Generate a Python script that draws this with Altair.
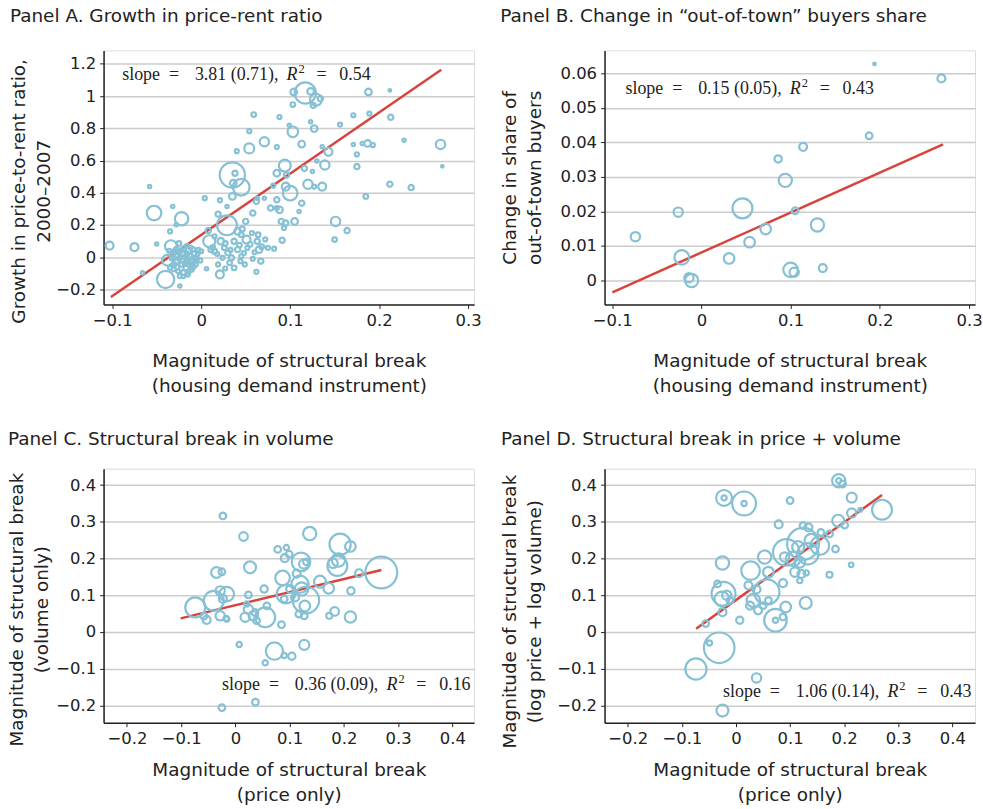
import altair as alt
import pandas as pd

# ---------------- Panel A data ----------------
a_x = [-0.103, -0.075, -0.058, -0.053, -0.022, -0.028, -0.032, -0.035, -0.050, -0.066,
       -0.040, -0.034, -0.038, -0.024, -0.032, -0.028, -0.024, -0.021, -0.017, -0.013,
       -0.022, -0.017, -0.011, -0.026, -0.019, -0.009, -0.007, -0.015, -0.030, -0.021,
       -0.015, -0.011, -0.035, -0.006, -0.024, -0.004, -0.019, -0.028, -0.012, -0.020,
       -0.008, -0.030, -0.016, -0.001, -0.025,
       0.004, 0.021, 0.029, 0.019, 0.035, 0.038, 0.036, 0.045, 0.035, 0.029,
       0.009, 0.008, 0.022, 0.037, 0.041, 0.046, 0.051, 0.057, 0.063, 0.065,
       0.067, 0.062, 0.021, 0.037, 0.006, 0.019, 0.030, 0.011, 0.026, 0.041,
       0.052, 0.075, 0.082, 0.034, 0.045, 0.054, 0.054, 0.059, 0.040, 0.071,
       0.085, 0.088, 0.094, 0.085, 0.096, 0.100, 0.095, 0.081, 0.085, 0.078,
       0.088, 0.090, 0.093, 0.095, 0.105, 0.110, 0.113, 0.091, 0.103, 0.099,
       0.103, 0.104, 0.117, 0.129, 0.123, 0.134, 0.126, 0.113, 0.123, 0.127,
       0.116, 0.120, 0.127, 0.136, 0.139, 0.143, 0.136, 0.130, 0.125, 0.151,
       0.150, 0.164, 0.156, 0.171, 0.188, 0.212, 0.189, 0.213, 0.171, 0.175,
       0.175, 0.181, 0.187, 0.193, 0.228, 0.269, 0.271, 0.212, 0.236, 0.185,
       0.062, 0.058, 0.063, 0.050, 0.045, 0.015, 0.032, 0.049, 0.024, 0.000,
       0.071, 0.085,
       -0.033, -0.027, -0.018, -0.014, -0.009, -0.005, -0.023, -0.031, -0.012, -0.020,
       -0.027, -0.003, -0.016, -0.036, -0.010,
       0.013, 0.018, 0.027, 0.033, 0.043, 0.048, 0.055, 0.060, 0.068, 0.058,
       0.027, 0.044, 0.015, 0.072, 0.064]
a_y = [0.072, 0.062, 0.438, 0.274, 0.239, 0.202, 0.315, 0.160, 0.082, -0.097,
       -0.138, 0.068, -0.019, -0.179, 0.016, 0.047, -0.004, 0.027, -0.025, 0.006,
       -0.045, -0.066, -0.045, -0.086, 0.058, 0.047, -0.004, -0.107, -0.045, -0.014,
       0.037, -0.076, -0.066, -0.045, -0.117, 0.016, 0.016, -0.030, -0.020, -0.095,
       0.025, 0.035, 0.070, -0.020, 0.085,
       0.366, 0.354, 0.315, 0.267, 0.510, 0.521, 0.459, 0.434, 0.377, 0.198,
       0.099, 0.165, 0.099, 0.099, 0.160, 0.175, 0.109, 0.150, 0.099, 0.047,
       -0.025, -0.091, -0.107, -0.066, -0.072, -0.045, 0.027, 0.047, 0.058, 0.047,
       0.058, 0.058, 0.053, -0.004, 0.006, 0.675, 0.782, 0.885, 0.658, 0.716,
       0.683, 0.870, 0.568, 0.521, 0.510, 0.397, 0.438, 0.444, 0.356, 0.305,
       0.294, 0.222, 0.181, 0.212, 0.222, 0.284, 0.335, 0.105, 0.778, 0.819,
       0.947, 1.025, 1.019, 0.977, 1.029, 0.984, 0.942, 0.702, 0.840, 0.798,
       0.551, 0.453, 0.438, 0.438, 0.572, 0.654, 0.685, 0.597, 0.531, 0.222,
       0.109, 0.165, 0.823, 0.881, 1.025, 1.035, 0.891, 0.868, 0.700, 0.638,
       0.562, 0.706, 0.706, 0.695, 0.726, 0.700, 0.564, 0.453, 0.432, 0.377,
       0.346, 0.274, 0.366, 0.222, 0.140, 0.037, -0.035, -0.045, -0.004, 0.037,
       0.366, 0.305,
       -0.005, 0.010, -0.040, -0.090, -0.060, -0.010, 0.040, -0.075, 0.060, -0.120,
       -0.060, 0.045, 0.020, 0.040, -0.030,
       0.060, 0.020, 0.085, 0.045, 0.075, 0.025, 0.080, 0.030, 0.065, -0.010,
       -0.070, -0.025, 0.130, 0.110, 0.140]
a_w = [1.44, 1.44, 0.25, 4.84, 4.0, 0.25, 0.25, 0.36, 0.25, 0.25,
       6.76, 3.24, 2.56, 0.25, 0.36, 0.64, 0.49, 0.64, 0.36, 0.64,
       0.49, 0.64, 0.36, 0.36, 0.36, 0.49, 0.36, 0.36, 0.36, 1.0,
       1.0, 0.49, 0.36, 0.36, 0.36, 0.25, 1.44, 0.64, 0.81, 0.49,
       0.49, 0.49, 0.36, 0.36, 0.49,
       0.36, 0.36, 0.25, 0.64, 14.4, 0.64, 1.0, 6.25, 1.0, 9.0,
       3.24, 0.64, 1.0, 0.64, 1.0, 0.64, 1.44, 0.36, 0.64, 1.0,
       0.64, 0.36, 1.44, 0.49, 0.25, 0.36, 0.64, 0.64, 0.49, 0.64,
       0.36, 0.36, 0.36, 0.64, 0.36, 2.25, 0.36, 0.49, 0.36, 1.96,
       0.36, 0.36, 3.24, 1.0, 0.64, 4.84, 1.44, 0.36, 0.64, 0.64,
       1.0, 0.64, 0.36, 0.64, 1.0, 0.25, 0.64, 0.64, 2.56, 0.25,
       0.49, 1.0, 10.24, 3.24, 1.0, 0.64, 0.64, 1.0, 0.25, 1.0,
       0.64, 1.96, 0.36, 1.44, 1.96, 1.44, 0.25, 0.25, 0.25, 1.96,
       0.49, 0.64, 0.36, 0.36, 1.0, 0.16, 0.36, 0.64, 0.25, 0.36,
       0.64, 0.25, 1.0, 0.36, 0.25, 1.96, 0.16, 0.64, 0.64, 0.49,
       0.64, 0.64, 0.25, 0.64, 0.49, 0.64, 0.49, 0.36, 0.36, 0.36,
       0.25, 0.36,
       0.49, 0.36, 0.49, 0.36, 0.49, 0.36, 0.36, 0.36, 0.36, 0.25,
       0.49, 0.36, 0.49, 0.36, 0.64,
       0.49, 0.36, 0.49, 0.36, 0.49, 0.36, 0.49, 0.36, 0.49, 0.36,
       0.36, 0.36, 0.36, 0.36, 0.49]
a_line_x = [-0.1015, 0.2698]
a_line_y = [-0.247, 1.163]

# ---------------- Panel B data ----------------
b_x = [0.194, 0.269, 0.188, 0.114, 0.086, 0.094, 0.046, 0.105, -0.026, 0.130,
       0.072, 0.054, -0.074, -0.022, 0.031, 0.136, 0.100, 0.104, -0.014, -0.011]
b_y = [0.0627, 0.0585, 0.0419, 0.0387, 0.0352, 0.0290, 0.0209, 0.0202, 0.0198, 0.0161,
       0.0149, 0.0111, 0.0127, 0.0067, 0.0064, 0.0036, 0.0031, 0.0024, 0.0008, 0.0000]
b_w = [0.16, 1.44, 1.0, 1.44, 1.21, 4.0, 9.0, 1.0, 1.96, 4.0,
       2.56, 2.56, 1.96, 4.84, 2.56, 1.44, 4.84, 1.96, 1.96, 4.0]
b_line_x = [-0.0998, 0.2708]
b_line_y = [-0.0034, 0.0394]

# ---------------- Panel C data ----------------
c_x = [-0.023, 0.015, 0.027, -0.035, -0.025, -0.074, -0.040, -0.016, -0.028, -0.023,
       -0.053, -0.058, -0.028, -0.017, 0.024, 0.053, 0.058, 0.018, 0.024, 0.033,
       0.039, 0.055, 0.036, 0.085, 0.007, 0.072, 0.090, 0.104, 0.055, 0.127,
       -0.025, 0.037, 0.137, 0.078, 0.094, 0.091, 0.099, 0.121, 0.126, 0.131,
       0.087, 0.113, 0.093, 0.090, 0.119, 0.130, 0.122, 0.128, 0.117, 0.127,
       0.110, 0.101, 0.156, 0.172, 0.193, 0.212, 0.188, 0.190, 0.180, 0.228,
       0.269, 0.213, 0.183, 0.173, 0.212, 0.021, -0.016]
c_y = [0.316, 0.260, 0.176, 0.162, 0.164, 0.067, 0.085, 0.103, 0.112, 0.090,
       0.033, 0.043, 0.044, 0.037, 0.101, 0.117, 0.071, 0.040, 0.062, 0.044,
       0.031, 0.040, 0.053, 0.020, -0.034, -0.052, -0.064, -0.066, -0.084, -0.035,
       -0.206, -0.191, 0.268, 0.225, 0.230, 0.201, 0.212, 0.191, 0.185, 0.191,
       0.147, 0.159, 0.103, 0.090, 0.130, 0.087, 0.117, 0.071, 0.049, 0.044,
       0.094, 0.117, 0.137, 0.119, 0.239, 0.233, 0.180, 0.196, 0.187, 0.160,
       0.162, 0.112, 0.056, 0.044, 0.041, 0.076, 0.035]
c_w = [1.0, 1.69, 3.24, 2.56, 1.0, 9.0, 9.0, 4.84, 1.96, 1.44,
       1.44, 1.0, 1.96, 0.64, 1.0, 1.21, 1.0, 1.96, 1.96, 1.96,
       1.0, 9.0, 1.0, 1.0, 0.64, 6.76, 0.64, 1.21, 0.64, 2.25,
       1.0, 1.0, 4.0, 1.0, 0.64, 1.44, 1.0, 7.84, 1.96, 1.0,
       4.84, 1.44, 7.84, 1.0, 6.76, 16.0, 4.0, 2.56, 1.0, 1.0,
       1.44, 1.44, 3.24, 2.56, 10.24, 2.56, 9.0, 4.0, 1.96, 1.44,
       23.04, 1.21, 1.69, 0.81, 2.89, 0.64, 0.64]
c_line_x = [-0.101, 0.269]
c_line_y = [0.037, 0.169]

# ---------------- Panel D data ----------------
d_x = [0.190, 0.190, 0.197, -0.022, -0.022, 0.015, 0.015, 0.100, 0.079, 0.214,
       0.214, 0.230, 0.270, 0.189, 0.201, 0.173, 0.184, 0.213, 0.173, 0.157,
       0.124, 0.134, 0.124, 0.093, 0.133, 0.115, 0.106, 0.090, 0.118, 0.109,
       0.121, 0.130, 0.118, 0.053, 0.027, 0.060, 0.087, -0.025, -0.034, -0.023,
       -0.026, -0.017, -0.011, -0.025, 0.007, 0.057, 0.023, 0.038, 0.032, 0.026,
       0.041, 0.060, 0.050, 0.073, 0.073, 0.092, 0.087, 0.129, -0.056, -0.031,
       -0.049, -0.074, 0.038, -0.025, 0.155, 0.139]
d_y = [0.412, 0.412, 0.403, 0.365, 0.365, 0.350, 0.350, 0.358, 0.293, 0.366,
       0.324, 0.333, 0.333, 0.303, 0.291, 0.267, 0.226, 0.183, 0.156, 0.271,
       0.290, 0.285, 0.240, 0.217, 0.213, 0.231, 0.199, 0.204, 0.190, 0.163,
       0.158, 0.161, 0.140, 0.204, 0.167, 0.163, 0.133, 0.188, 0.131, 0.104,
       0.090, 0.100, 0.086, 0.054, 0.032, 0.109, 0.127, 0.116, 0.086, 0.072,
       0.059, 0.086, 0.072, 0.032, 0.032, 0.068, 0.041, 0.079, 0.023, -0.043,
       -0.030, -0.101, -0.125, -0.214, 0.235, 0.249]
d_w = [4.0, 0.64, 1.0, 5.76, 0.64, 12.96, 0.64, 1.0, 1.44, 2.25,
       1.96, 0.36, 9.0, 3.24, 1.0, 1.0, 1.0, 0.49, 0.81, 1.0,
       1.0, 1.44, 23.04, 16.0, 10.24, 3.24, 4.84, 1.96, 2.56, 1.96,
       1.44, 0.64, 0.64, 4.0, 7.84, 2.56, 1.44, 4.0, 1.0, 12.96,
       4.84, 1.96, 1.0, 1.44, 1.21, 14.44, 1.44, 1.44, 4.0, 1.44,
       1.44, 1.0, 1.0, 11.56, 0.64, 2.56, 1.0, 3.24, 1.0, 21.16,
       0.64, 10.24, 1.96, 3.24, 7.84, 4.0]
d_line_x = [-0.0737, 0.270]
d_line_y = [0.009, 0.373]

# ---------------- style ----------------
BLUE = "#86c0d4"
RED = "#d8433c"
TXT = "#222222"
SANS = "DejaVu Sans"
SERIF = "Liberation Serif"
W, H = 372, 255

# offsets of the annotation pieces from its left edge (px)
PIECE_OFF = [0, 47, 73, 195, 218]
R_OFF = 165
SUP_OFF = 177


def text_piece(t, px, py, size=18, style="normal"):
    return alt.Chart(pd.DataFrame({"t": [t]})).mark_text(
        align="left", baseline="alphabetic", font=SERIF, fontSize=size,
        fontStyle=style, color=TXT
    ).encode(x=alt.value(px), y=alt.value(py), text="t:N")


def panel(px_, py_, pw_, lx, ly, xdom, ydom, xvals, yvals, yfmt, xtitle, ytitle,
          title, parts, ax, ay, xpad, ypad, ytitle_y, toff):
    pts = pd.DataFrame({"x": px_, "y": py_, "w": pw_})
    ln = pd.DataFrame({"x": lx, "y": ly})
    xs = alt.Scale(domain=xdom, nice=False, zero=False)
    ys = alt.Scale(domain=ydom, nice=False, zero=False)
    xa = alt.Axis(values=xvals, format=".1~f", grid=False, title=xtitle,
                  domainColor=TXT, domainWidth=1.5, tickColor=TXT, tickSize=4,
                  tickWidth=1, labelFont=SANS, labelFontSize=16.5, labelColor=TXT,
                  labelPadding=4, labelFlush=False, labelOverlap=False,
                  titleFont=SANS, titleFontSize=18.5, titleFontWeight="normal",
                  titleColor=TXT, titlePadding=xpad, titleLineHeight=25)
    ya = alt.Axis(values=yvals, format=yfmt, grid=True, gridColor="#cccccc",
                  gridWidth=1.5, title=ytitle, domainColor=TXT, domainWidth=1.5,
                  tickColor=TXT, tickSize=4, tickWidth=1, labelFont=SANS,
                  labelFontSize=16.5, labelColor=TXT, labelPadding=4,
                  labelFlush=False, labelOverlap=False, titleFont=SANS,
                  titleFontSize=18.5, titleFontWeight="normal", titleColor=TXT,
                  titlePadding=ypad, titleLineHeight=25, titleY=ytitle_y)
    line = alt.Chart(ln).mark_line(color=RED, strokeWidth=2.5).encode(
        x=alt.X("x:Q", scale=xs, axis=xa), y=alt.Y("y:Q", scale=ys, axis=ya))
    circ = alt.Chart(pts).mark_point(
        shape="circle", filled=False, stroke=BLUE, strokeWidth=2.2, opacity=1
    ).encode(
        x=alt.X("x:Q", scale=xs, axis=xa), y=alt.Y("y:Q", scale=ys, axis=ya),
        size=alt.Size("w:Q", scale=alt.Scale(domain=[0, 25], range=[0, 1110]),
                      legend=None))
    texts = [text_piece(t, ax + o, ay) for t, o in zip(parts, PIECE_OFF)]
    texts.append(text_piece("R", ax + R_OFF, ay, style="italic"))
    texts.append(text_piece("2", ax + SUP_OFF, ay - 7, size=12.5))
    return alt.layer(line, circ, *texts).properties(
        width=W, height=H,
        title=alt.TitleParams(title, anchor="start", frame="bounds", font=SANS,
                              fontSize=18.5, fontWeight="normal", color=TXT,
                              offset=toff))


xt_price = [-0.2, -0.1, 0, 0.1, 0.2, 0.3, 0.4]
xt_inst = [-0.1, 0, 0.1, 0.2, 0.3]

pA = panel(a_x, a_y, a_w, a_line_x, a_line_y, [-0.1097, 0.3067], [-0.293, 1.283],
           xt_inst, [-0.2, 0, 0.2, 0.4, 0.6, 0.8, 1, 1.2], ".1~f",
           ["Magnitude of structural break", "(housing demand instrument)"],
           ["Growth in price-to-rent ratio,", "2000–2007"],
           "Panel A. Growth in price-rent ratio",
           ["slope", "=", "3.81 (0.71),", "=", "0.54"], 18.7, 29.4, 23, 2, 141, 25)

pB = panel(b_x, b_y, b_w, b_line_x, b_line_y, [-0.1086, 0.3067], [-0.0069, 0.0666],
           xt_inst, [0, 0.01, 0.02, 0.03, 0.04, 0.05, 0.06], ".2~f",
           ["Magnitude of structural break", "(housing demand instrument)"],
           ["Change in share of", "out-of-town buyers"],
           "Panel B. Change in “out-of-town” buyers share",
           ["slope", "=", "0.15 (0.05),", "=", "0.43"], 21, 43.4, 23, 16, 127.5, 25)

pC = panel(c_x, c_y, c_w, c_line_x, c_line_y, [-0.243, 0.44], [-0.247, 0.4446],
           xt_price, [-0.2, -0.1, 0, 0.1, 0.2, 0.3, 0.4], ".1~f",
           ["Magnitude of structural break", "(price only)"],
           ["Magnitude of structural break", "(volume only)"],
           "Panel C. Structural break in volume",
           ["slope", "=", "0.36 (0.09),", "=", "0.16"], 119, 222.5, 14, 4, 141, 20)

pD = panel(d_x, d_y, d_w, d_line_x, d_line_y, [-0.243, 0.442], [-0.247, 0.4446],
           xt_price, [-0.2, -0.1, 0, 0.1, 0.2, 0.3, 0.4], ".1~f",
           ["Magnitude of structural break", "(price only)"],
           ["Magnitude of structural break", "(log price + log volume)"],
           "Panel D. Structural break in price + volume",
           ["slope", "=", "1.06 (0.14),", "=", "0.43"], 119, 228.7, 14, 12, 143, 20)

res = dict(x="independent", y="independent", size="independent")
row1 = alt.hconcat(pA, pB, spacing=17).resolve_scale(**res)
row2 = alt.hconcat(pC, pD, spacing=25).resolve_scale(**res)
chart = alt.vconcat(row1, row2, spacing=34).resolve_scale(**res).properties(
    padding={"left": 7, "top": 5, "right": 0, "bottom": 0}
).configure_view(stroke=None).configure(background="white")

chart.save("out.html", embed_options={"renderer": "svg", "actions": False})
